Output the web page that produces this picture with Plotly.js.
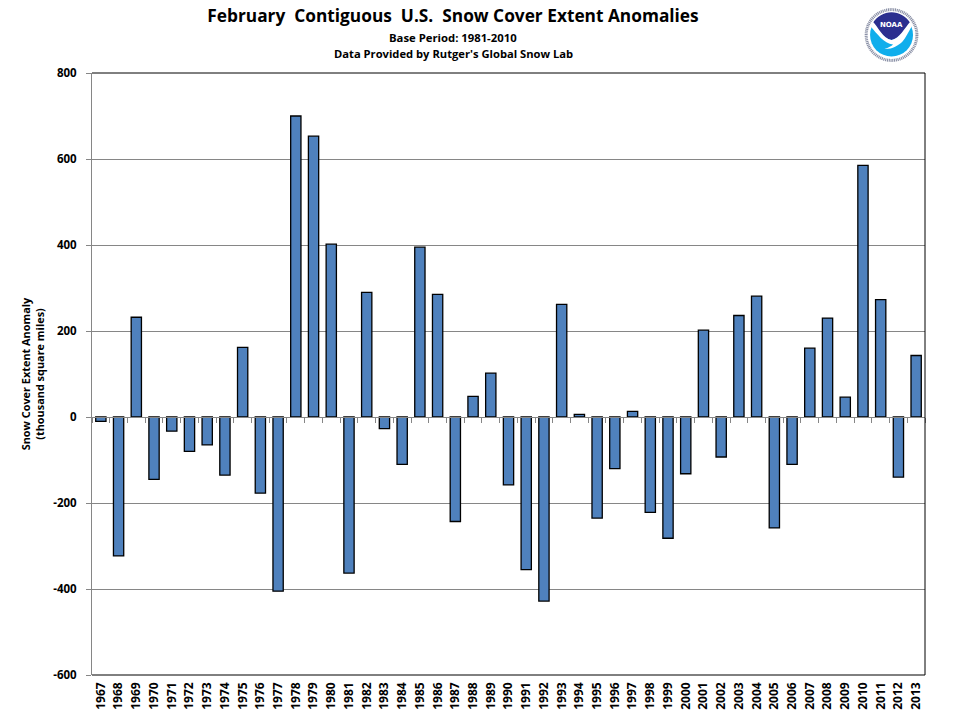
<!DOCTYPE html>
<html>
<head>
<meta charset="utf-8">
<script src="https://cdn.plot.ly/plotly-3.0.1.min.js"></script>
<style>html,body{margin:0;padding:0;background:#fff}</style>
</head>
<body>
<div id="chart" style="width:960px;height:720px"></div>
<script>
const years = ["1967","1968","1969","1970","1971","1972","1973","1974","1975","1976","1977","1978","1979","1980","1981","1982","1983","1984","1985","1986","1987","1988","1989","1990","1991","1992","1993","1994","1995","1996","1997","1998","1999","2000","2001","2002","2003","2004","2005","2006","2007","2008","2009","2010","2011","2012","2013"];
const anomalies = [-10,-323,232,-145,-33,-80,-65,-135,162,-177,-405,700,653,402,-363,290,-27,-110,395,285,-243,48,102,-158,-355,-428,262,6,-235,-120,13,-222,-282,-132,202,-93,236,281,-258,-110,160,230,46,585,273,-140,143];
const yTicks = [-600,-400,-200,0,200,400,600,800];
const titleText = "February  Contiguous  U.S.  Snow Cover Extent Anomalies";
const subtitleA = "Base Period: 1981-2010";
const subtitleB = "Data Provided by Rutger's Global Snow Lab";
const yTitle = "Snow Cover Extent Anomaly<br>(thousand square miles)";

const FONT = '"Open Sans", "Noto Sans", sans-serif';
const logoSvg = `<svg xmlns="http://www.w3.org/2000/svg" width="240" height="240" viewBox="0 0 60 60">
<circle cx="30" cy="30" r="29" fill="#fff"/>
<circle cx="30" cy="30" r="25.4" fill="none" stroke="#8a90a6" stroke-width="3" stroke-dasharray="1.1 0.7"/>
<circle cx="30" cy="30" r="21.5" fill="#10aeec"/>
<path d="M11.4,18 A21.5,21.5 0 0 1 48.6,18 C44,23 39,33 30,35 C21,33 16,23 11.4,18 Z" fill="#2b2f8f"/>
<path d="M8.6,21 L11,16.5 C17,22 21,33.5 30,35 C38,33.5 43,23 49,16.5 L51,20 C47,27 44,33 41,36.5 C37,40.5 30,44.5 23,44 C27,42.5 30,41 31.5,39.5 C22,38.5 16,29 8.6,21 Z" fill="#fff"/>
</svg>`;

const traces = [
  {type:'bar', x:years, y:anomalies, xaxis:'x', yaxis:'y',
   marker:{color:'#4F81BD', line:{color:'#000000', width:1.3}}, hoverinfo:'x+y'},
  {type:'scatter', mode:'markers', x:years, y:anomalies, xaxis:'x2', yaxis:'y',
   marker:{opacity:0, size:1}, hoverinfo:'skip', showlegend:false}
];

const layout = {
  width:960, height:720, showlegend:false, paper_bgcolor:'#fff', plot_bgcolor:'#fff',
  margin:{l:91.5, r:34.5, t:73, b:45, pad:0, autoexpand:false},
  font:{family:FONT, color:'#000'},
  bargap:0.42,
  title:{text:titleText, x:453/960, xanchor:'center', y:1-16/720, yanchor:'middle',
         font:{family:FONT, size:17.3, weight:700, color:'#000'}},
  xaxis:{type:'category', range:[-0.5,46.5], automargin:false, showgrid:false, zeroline:false, showline:false,
         ticks:'', tickangle:-90, tickmode:'array', tickvals:years, ticktext:years,
         tickfont:{family:FONT, size:12, weight:700, color:'#000'}, ticklabelstandoff:4,
         layer:'above traces'},
  xaxis2:{type:'category', range:[-0.5,46.5], overlaying:'x', anchor:'free', position:600/1400, side:'bottom',
          showgrid:false, zeroline:false, showline:true, linecolor:'#868686', linewidth:1,
          ticks:'outside', ticklen:5, tickcolor:'#868686', tickson:'boundaries', showticklabels:false},
  yaxis:{range:[-600,800], tickmode:'array', tickvals:yTicks, ticktext:yTicks.map(String),
         automargin:false, showgrid:true, gridcolor:'#868686', gridwidth:1, zeroline:false,
         showline:true, linecolor:'#868686', linewidth:1, ticks:'outside', ticklen:5, tickcolor:'#868686',
         tickfont:{family:FONT, size:11.5, weight:700, color:'#000'}, ticklabelstandoff:7,
         title:{text:yTitle, standoff:6, font:{family:FONT, size:10.9, weight:700, color:'#000'}}},
  shapes:[
    {type:'line', xref:'paper', yref:'paper', x0:0, x1:1, y0:1, y1:1, line:{color:'#000', width:1}},
    {type:'line', xref:'paper', yref:'paper', x0:1, x1:1, y0:0, y1:1, line:{color:'#000', width:1}},
    {type:'line', xref:'paper', yref:'paper', x0:0, x1:1, y0:0, y1:0, line:{color:'#000', width:1}}
  ],
  annotations:[
    {text:subtitleA, xref:'paper', yref:'paper', x:(453-91.5)/834, y:1+(73-37)/602, showarrow:false,
     xanchor:'center', yanchor:'middle', font:{family:FONT, size:11.3, weight:700, color:'#000'}},
    {text:subtitleB, xref:'paper', yref:'paper', x:(453-91.5)/834, y:1+(73-53)/602, showarrow:false,
     xanchor:'center', yanchor:'middle', font:{family:FONT, size:11.2, weight:700, color:'#000'}},
    {text:'NOAA', xref:'paper', yref:'paper', x:(892-91.5)/834, y:1+(73-25)/602, showarrow:false,
     xanchor:'center', yanchor:'middle', font:{family:'"DejaVu Sans", sans-serif', size:7, weight:700, color:'#fff'}}
  ],
  images:[{source:'data:image/svg+xml;utf8,'+encodeURIComponent(logoSvg), xref:'paper', yref:'paper',
           x:(892-91.5)/834, y:1+(73-35)/602, sizex:60/834, sizey:60/602,
           xanchor:'center', yanchor:'middle', sizing:'stretch', layer:'above'}]
};

Plotly.newPlot('chart', traces, layout, {displayModeBar:false, responsive:false});
</script>
</body>
</html>
